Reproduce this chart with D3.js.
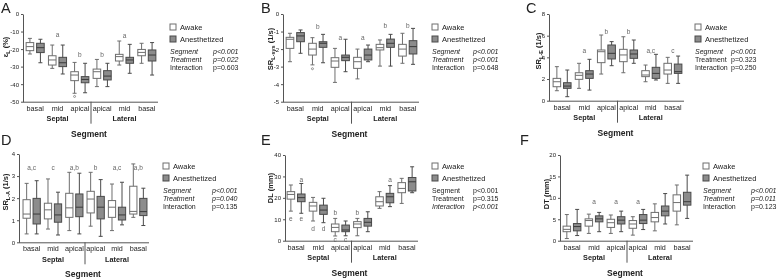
<!DOCTYPE html>
<html>
<head>
<meta charset="utf-8">
<script src="https://cdn.jsdelivr.net/npm/d3@7"></script>
<style>
  body { margin: 0; background: #fff; }
  #chart { will-change: transform; }
  text { font-family: "Liberation Sans", Arial, sans-serif; }
</style>
</head>
<body>
<svg id="chart" width="778" height="279"></svg>
<script>
// categories
var segments = ["basal", "mid", "apical", "apical", "mid", "basal"];
var walls = ["Septal", "Lateral"];
var groups = ["Awake", "Anesthetized"];

// box stats: [min, q1, median, q3, max] per segment
var aAwake = [[-22.8,-20.9,-18.6,-16.3,-13.9],[-31,-29.1,-26.2,-23.8,-17.7],[-45.2,-38,-34.8,-32.9,-27.6],
              [-41.4,-36.7,-32.9,-31.4,-25.9],[-29.1,-26.8,-24.3,-23,-15.4],[-28.1,-23.8,-21.9,-20.2,-16.7]];
var aAnes  = [[-27.8,-22,-19.2,-16.7,-14.4],[-34.2,-30,-27.8,-24.7,-17.7],[-44.9,-39.2,-37.3,-35.7,-28.1],
              [-41.4,-37.6,-35.4,-32.3,-28.1],[-33.8,-28.1,-26.2,-24.7,-17.3],[-34.8,-26.8,-23.4,-20.5,-16.3]];
var bAwake = [[-2.72,-1.96,-1.44,-1.33,-1.1],[-2.9,-2.34,-2.0,-1.67,-1.35],[-3.9,-3.04,-2.68,-2.49,-1.96],
              [-3.7,-3.1,-2.72,-2.47,-2.0],[-2.97,-2.05,-1.92,-1.73,-1.48],[-2.81,-2.4,-2.0,-1.73,-1.1]];
var bAnes  = [[-2.24,-1.58,-1.25,-1.06,-0.91],[-2.78,-1.9,-1.67,-1.58,-1.16],[-3.29,-2.66,-2.47,-2.34,-1.44],
              [-2.72,-2.62,-2.34,-2.0,-1.77],[-2.97,-1.9,-1.67,-1.43,-1.16],[-2.87,-2.28,-1.86,-1.52,-0.82]];
var cAwake = [[0.92,1.29,1.75,2.06,3.14],[1.14,1.97,2.34,2.58,3.45],[2.46,3.51,4.52,4.68,6.06],
              [2.58,3.6,4.22,4.74,5.9],[1.75,2.22,2.37,2.77,3.29],[1.6,2.46,2.83,3.45,4.0]];
var cAnes  = [[0.37,1.14,1.35,1.66,2.83],[0.98,2.06,2.46,2.77,3.82],[3.23,3.85,4.37,5.14,5.45],
              [3.45,3.91,4.31,4.68,5.6],[1.91,2.06,2.52,3.08,4.28],[1.6,2.52,2.68,3.38,4.12]];
var dAwake = [[0.38,1.09,1.28,1.93,2.67],[0.6,1.06,1.47,1.77,2.87],[0.53,1.13,1.56,2.22,3.17],
              [0.73,1.33,1.96,2.31,3.17],[0.53,1.13,1.59,1.89,2.64],[1.13,1.28,1.4,2.54,3.55]];
var dAnes  = [[0.38,0.83,1.28,1.99,2.79],[0.33,0.91,1.24,1.74,2.27],[0.38,1.16,1.59,2.19,3.13],
              [0.27,1.06,1.59,2.08,2.84],[0.79,1.01,1.24,1.59,2.72],[0.76,1.21,1.39,1.99,2.45]];
var eAwake = [[13.8,19.4,21.6,22.9,26],[9.2,13.8,16.2,17.9,20.2],[2.2,4.2,6.2,7.8,10.4],
              [2.3,6.1,7.8,8.9,10.4],[15.1,16.2,18.2,20.5,22.9],[17.4,22.4,24.4,27.1,29.1]];
var eAnes  = [[12.8,18.2,20.1,21.8,26.7],[8.4,12.3,14.3,16.6,19.8],[2.3,4.2,5.0,7.3,9.2],
              [4.2,6.8,8.6,10.4,13.5],[15.9,17.7,20.5,22.1,25.7],[22.4,23.2,27.5,29.5,34.5]];
var fAwake = [[0.5,2.1,2.65,3.4,6.1],[1.7,3.4,4.7,5.1,6.2],[1.7,3.1,4.2,5.0,6.0],
              [1.3,2.9,3.9,4.7,5.6],[2.3,4.4,5.4,6.6,8.6],[3.7,6.9,8.9,10.7,13.0]];
var fAnes  = [[1.2,2.3,3.3,4.0,7.3],[2.1,4.4,5.1,5.8,6.6],[2.1,3.9,4.8,5.6,6.9],
              [2.6,4.0,4.8,6.1,7.3],[3.9,5.8,6.9,8.1,11.0],[5.2,8.3,9.1,11.3,15.3]];

// outliers: [segment, group, value]
var aOutliers = [[2, 0, -47]];
var bOutliers = [[1, 0, -3.12]];

// y ticks
var aTicks = [0, -10, -20, -30, -40, -50];
var bTicks = [0, -1, -2, -3, -4, -5];
var cTicks = [0, 2, 4, 6, 8];
var dTicks = [0, 1, 2, 3, 4];
var eTicks = [0, 10, 20, 30, 40];
var fTicks = [0, 5, 10, 15, 20];

// significance letters: [segment, box (-1 awake, 0 pair, 1 anes), text, value]
var aLetters = [[1,0,"a",-12],[2,0,"b",-23.4],[3,0,"b",-23.4],[4,0,"a",-12.5]];
var bLetters = [[1,0,"b",-0.72],[2,0,"a",-1.35],[3,0,"a",-1.35],[4,0,"b",-0.68],[5,0,"b",-0.68]];
var cLetters = [[1,0,"a",4.6],[2,0,"b",6.37],[3,0,"b",6.37],[4,0,"a,c",4.6],[5,0,"c",4.6]];
var dLetters = [[0,0,"a,c",3.37],[1,0,"c",3.37],[2,0,"a,b",3.37],[3,0,"b",3.37],[4,0,"a,c",3.37],[5,0,"a,b",3.37]];
var eLetters = [[0,1,"a",28.6],[0,-1,"e",10.1],[0,1,"e",10.1],[1,-1,"d",5.4],[1,1,"d",5.4],
                [2,-1,"b",13.2],[2,-1,"c",0.6],[2,1,"c",0.6],[3,-1,"b",13.2],[4,1,"a",28.4]];
var fLetters = [[1,0,"a",9],[2,0,"a",9],[3,0,"a",9]];

// stats: [label, p, italic]
var aStats = [["Segment","p<0.001",true],["Treatment","p=0.022",true],["Interaction","p=0.603",false]];
var bStats = [["Segment","p<0.001",true],["Treatment","p<0.001",true],["Interaction","p=0.648",false]];
var cStats = [["Segment","p<0.001",true],["Treatment","p=0.323",false],["Interaction","p=0.250",false]];
var dStats = [["Segment","p<0.001",true],["Treatment","p=0.040",true],["Interaction","p=0.135",false]];
var eStats = [["Segment","p<0.001",false],["Treatment","p=0.315",false],["Interaction","p<0.001",true]];
var fStats = [["Segment","p<0.001",true],["Treatment","p=0.011",true],["Interaction","p=0.123",false]];

var panels = [
  {tag:"A", awake:aAwake, anes:aAnes, ticks:aTicks, letters:aLetters, stats:aStats, outliers:aOutliers,
   ylab:["ε","L"," (%)"], tagX:1, tagY:13, row:0, axisX:23, x0:24, x1:158, yTop:14, yBot:101.7, labX:8, labY:47, legX:170, pX:213},
  {tag:"B", awake:bAwake, anes:bAnes, ticks:bTicks, letters:bLetters, stats:bStats, outliers:bOutliers,
   ylab:["SR","L-sys"," (1/s)"], tagX:261, tagY:13, row:0, axisX:283, x0:284, x1:419, yTop:14, yBot:101.7, labX:273, labY:49, legX:432, pX:473},
  {tag:"C", awake:cAwake, anes:cAnes, ticks:cTicks, letters:cLetters, stats:cStats, outliers:[],
   ylab:["SR","L-E"," (1/s)"], tagX:526, tagY:13, row:0, axisX:549, x0:551, x1:684, yTop:14, yBot:100.7, labX:541, labY:51, legX:695, pX:731},
  {tag:"D", awake:dAwake, anes:dAnes, ticks:dTicks, letters:dLetters, stats:dStats, outliers:[],
   ylab:["SR","L-A"," (1/s)"], tagX:1, tagY:144.5, row:139, axisX:19, x0:21, x1:149, yTop:154, yBot:242.3, labX:8, labY:192, legX:163, pX:212},
  {tag:"E", awake:eAwake, anes:eAnes, ticks:eTicks, letters:eLetters, stats:eStats, outliers:[],
   ylab:["DL (mm)"], tagX:261, tagY:144.5, row:139, axisX:285, x0:285, x1:418, yTop:155, yBot:240.7, labX:273, labY:188, legX:432, pX:473},
  {tag:"F", awake:fAwake, anes:fAnes, ticks:fTicks, letters:fLetters, stats:fStats, outliers:[],
   ylab:["DT (mm)"], tagX:520, tagY:144.5, row:139, axisX:560, x0:561, x1:693, yTop:155, yBot:240.7, labX:549, labY:194, legX:703, pX:751}
];

var svg = d3.select("#chart");
var ink = "#222";
var axisInk = "#555";
var fills = ["#ffffff", "#8c8c8c"];
var strokes = ["#6e6e6e", "#4a4a4a"];

panels.forEach(function(p) {
  var g = svg.append("g");

  var x = d3.scaleBand().domain(d3.range(segments.length)).range([p.x0, p.x1]);
  var y = d3.scaleLinear().domain(d3.extent(p.ticks)).range([p.yBot, p.yTop]);
  var bw = x.bandwidth();
  var boxW = bw * 0.34;
  var off = bw * 0.235;
  function cx(i, side) { return x(i) + bw / 2 + side * off; }

  // panel tag
  g.append("text").attr("x", p.tagX).attr("y", p.tagY)
    .attr("font-size", "14.5px").attr("fill", "#222").text(p.tag);

  // y axis
  var yAxis = g.append("g").attr("transform", "translate(" + p.axisX + ",0)")
    .call(d3.axisLeft(y).tickValues(p.ticks).tickSize(2).tickSizeOuter(0).tickPadding(2)
      .tickFormat(function(d) { return d; }));
  yAxis.select(".domain").attr("stroke", axisInk);
  yAxis.selectAll(".tick line").attr("stroke", axisInk);
  yAxis.selectAll("text").attr("font-size", "6px").attr("fill", ink)
    .attr("font-family", "Liberation Sans, Arial, sans-serif");

  // x axis
  var xAxis = g.append("g").attr("transform", "translate(0," + p.yBot + ")")
    .call(d3.axisBottom(x).tickSize(0).tickPadding(4).tickFormat(function(i) { return segments[i]; }));
  xAxis.select(".domain").attr("stroke", axisInk).attr("d", "M" + p.axisX + ",0.5H" + p.x1);
  xAxis.selectAll("text").attr("font-size", "7.2px").attr("fill", ink)
    .attr("font-family", "Liberation Sans, Arial, sans-serif");

  // septal / lateral divider and labels
  var mid = (p.x0 + p.x1) / 2;
  g.append("line").attr("x1", mid).attr("x2", mid)
    .attr("y1", p.yBot).attr("y2", p.yBot + 22).attr("stroke", axisInk);
  walls.forEach(function(w, k) {
    var c = (cx(k * 3, 0) + cx(k * 3 + 2, 0)) / 2;
    g.append("text").attr("x", c).attr("y", p.yBot + 19.5).attr("text-anchor", "middle")
      .attr("font-size", "7.3px").attr("font-weight", "bold").attr("fill", ink).text(w);
  });
  g.append("text").attr("x", mid - 2).attr("y", p.yBot + 35).attr("text-anchor", "middle")
    .attr("font-size", "8.5px").attr("font-weight", "bold").attr("fill", ink).text("Segment");

  // y label
  var yl = g.append("text").attr("transform", "translate(" + p.labX + "," + p.labY + ") rotate(-90)")
    .attr("text-anchor", "middle").attr("font-size", "7.5px").attr("font-weight", "bold").attr("fill", ink);
  yl.append("tspan").text(p.ylab[0]);
  if (p.ylab.length > 1) {
    yl.append("tspan").attr("font-size", "5.5px").attr("dy", "2").text(p.ylab[1]);
    yl.append("tspan").attr("dy", "-2").text(p.ylab[2]);
  }

  // boxes
  [p.awake, p.anes].forEach(function(series, gi) {
    var side = gi === 0 ? -1 : 1;
    var bx = g.selectAll(".box" + gi).data(series).enter().append("g");
    bx.append("line")
      .attr("x1", function(d, i) { return cx(i, side); })
      .attr("x2", function(d, i) { return cx(i, side); })
      .attr("y1", function(d) { return y(d[0]); })
      .attr("y2", function(d) { return y(d[4]); })
      .attr("stroke", strokes[gi]);
    [0, 4].forEach(function(k) {
      bx.append("line")
        .attr("x1", function(d, i) { return cx(i, side) - 2; })
        .attr("x2", function(d, i) { return cx(i, side) + 2; })
        .attr("y1", function(d) { return y(d[k]); })
        .attr("y2", function(d) { return y(d[k]); })
        .attr("stroke", strokes[gi]);
    });
    bx.append("rect")
      .attr("x", function(d, i) { return cx(i, side) - boxW / 2; })
      .attr("y", function(d) { return y(d[3]); })
      .attr("width", boxW)
      .attr("height", function(d) { return y(d[1]) - y(d[3]); })
      .attr("fill", fills[gi]).attr("stroke", strokes[gi]);
    bx.append("line")
      .attr("x1", function(d, i) { return cx(i, side) - boxW / 2; })
      .attr("x2", function(d, i) { return cx(i, side) + boxW / 2; })
      .attr("y1", function(d) { return y(d[2]); })
      .attr("y2", function(d) { return y(d[2]); })
      .attr("stroke", gi === 0 ? "#6e6e6e" : "#3a3a3a");
  });

  // outliers
  g.selectAll(".out").data(p.outliers).enter().append("circle")
    .attr("cx", function(d) { return cx(d[0], d[1] === 0 ? -1 : 1); })
    .attr("cy", function(d) { return y(d[2]); })
    .attr("r", 1).attr("fill", "none").attr("stroke", "#6e6e6e").attr("stroke-width", 0.7);

  // letters
  g.selectAll(".letter").data(p.letters).enter().append("text")
    .attr("x", function(d) { return cx(d[0], d[1]); })
    .attr("y", function(d) { return y(d[3]); })
    .attr("dy", "0.35em").attr("text-anchor", "middle")
    .attr("font-size", "6.5px").attr("fill", "#666")
    .text(function(d) { return d[2]; });

  // legend
  groups.forEach(function(name, gi) {
    var ly = p.row + 24 + gi * 12;
    g.append("rect").attr("x", p.legX).attr("y", ly).attr("width", 6).attr("height", 6)
      .attr("fill", fills[gi]).attr("stroke", strokes[gi]);
    g.append("text").attr("x", p.legX + 10).attr("y", ly + 5.8)
      .attr("font-size", "7.5px").attr("fill", ink).text(name);
  });
  p.stats.forEach(function(s, k) {
    var sy = p.row + 53.5 + k * 8.4;
    g.append("text").attr("x", p.legX).attr("y", sy).attr("font-size", "7px").attr("fill", ink)
      .attr("font-style", s[2] ? "italic" : "normal").text(s[0]);
    g.append("text").attr("x", p.pX).attr("y", sy).attr("font-size", "7px").attr("fill", ink)
      .attr("font-style", s[2] ? "italic" : "normal").text(s[1]);
  });
});
</script>
</body>
</html>
